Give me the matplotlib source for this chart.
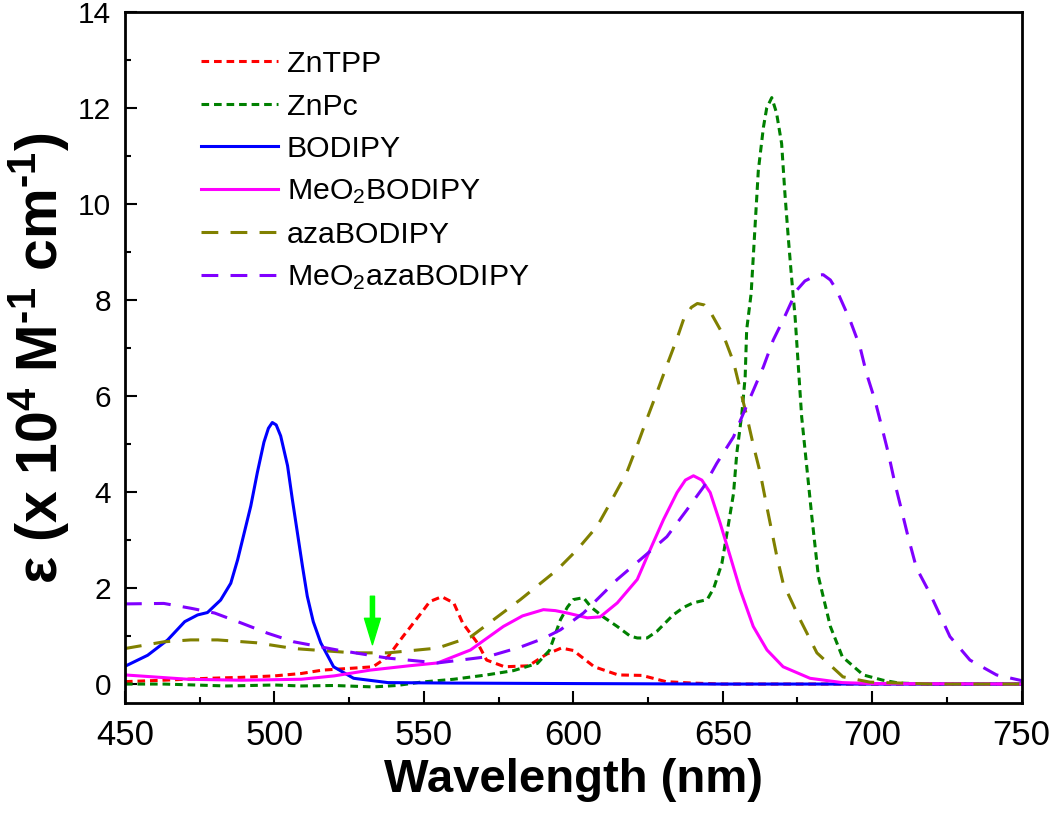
import numpy as np
import matplotlib
matplotlib.use("Agg")
from matplotlib import pyplot as plt

plt.rcParams['font.family'] = ['Liberation Sans', 'DejaVu Sans']
plt.rcParams['mathtext.default'] = 'regular'

# ZnTPP
wl_tpp = [450, 463, 478, 489, 500, 509, 516, 526, 533, 538, 543, 549, 552, 556, 560,
          563, 568, 571, 577, 585, 591, 596, 600, 607, 615, 623, 631, 640, 650, 700, 750]
eps_tpp = [0.05, 0.08, 0.12, 0.14, 0.17, 0.22, 0.29, 0.33, 0.36, 0.57, 0.99, 1.47, 1.72, 1.82, 1.69,
           1.27, 0.85, 0.5, 0.36, 0.38, 0.62, 0.75, 0.7, 0.36, 0.19, 0.18, 0.05, 0.02, 0.0, 0.0, 0.0]

# ZnPc
wl_pc = [450, 463, 484, 500, 509, 520, 533, 541, 549, 560, 571, 580, 588, 592, 595.7, 598, 600,
         603.4, 606, 610, 614.7, 619, 621.4, 624.7, 628, 633.4, 637, 640, 644.8, 647, 649.7,
         651.4, 653.6, 654.7, 656.4, 657.5, 658, 659.5, 660.8, 661.9, 663.6, 664.7, 666.4, 668,
         669.7, 670.8, 671.9, 673, 674.2, 675.3, 676.4, 678.1, 679.8, 682, 686, 690, 697, 703.6,
         709, 720, 750]
eps_pc = [0.0, 0.0, -0.04, -0.02, -0.04, -0.03, -0.06, -0.03, 0.04, 0.1, 0.19, 0.28, 0.43, 0.7,
          1.34, 1.6, 1.76, 1.8, 1.6, 1.4, 1.2, 1.0, 0.96, 0.96, 1.1, 1.44, 1.6, 1.69, 1.76, 2.0,
          2.51, 3.14, 3.97, 4.81, 5.64, 6.4, 7.38, 8.14, 9.53, 10.7, 11.6, 12.0, 12.22, 11.9,
          11.26, 10.22, 9.32, 8.49, 7.65, 6.61, 5.57, 4.53, 3.49, 2.24, 1.2, 0.57, 0.19, 0.08,
          0.02, 0.0, 0.0]

# BODIPY
wl_bod = [450, 451, 457.6, 464.3, 470, 474.3, 477.6, 482, 485.4, 487.7, 489.9, 492.1, 494.3,
          496.5, 498, 499.3, 500.6, 502.1, 504.4, 506, 507.7, 509.4, 511, 513, 515.5, 519.8,
          526.5, 538, 560, 600, 650, 700, 750]
eps_bod = [0.37, 0.4, 0.6, 0.92, 1.3, 1.44, 1.49, 1.75, 2.1, 2.59, 3.15, 3.71, 4.41, 5.04, 5.33,
           5.45, 5.4, 5.17, 4.55, 3.85, 3.15, 2.45, 1.83, 1.3, 0.86, 0.36, 0.12, 0.03, 0.02,
           0.01, 0.0, 0.0, 0.0]

# MeO2BODIPY
wl_mbod = [450, 471, 489, 509, 520, 532, 545, 554.6, 565.6, 576.6, 583, 590, 594, 598, 604.7,
           609, 614.7, 621.4, 625.7, 630.2, 634.7, 637.5, 640.2, 643, 645.8, 649.1, 652.5,
           655.8, 660.2, 664.8, 670.2, 679.2, 690, 700, 750]
eps_mbod = [0.19, 0.1, 0.08, 0.1, 0.17, 0.29, 0.38, 0.44, 0.71, 1.2, 1.42, 1.55, 1.53, 1.48,
            1.38, 1.4, 1.69, 2.18, 2.8, 3.43, 3.99, 4.25, 4.34, 4.25, 3.99, 3.36, 2.66, 1.97,
            1.2, 0.71, 0.36, 0.12, 0.03, 0.01, 0.0]

# azaBODIPY
wl_aza = [450, 463, 472, 481, 494, 506.5, 526.5, 538, 554.6, 565.6, 582.3, 594.6, 601.3, 608,
          612.4, 617.9, 621.3, 624.6, 628, 631.3, 634.7, 636.9, 639.5, 641.5, 643.8, 645.8,
          650.2, 653.6, 655.8, 658, 660.3, 662.5, 664.7, 668.1, 670.2, 675.9, 681.5, 690.2,
          699.2, 720, 750]
eps_aza = [0.74, 0.88, 0.92, 0.92, 0.86, 0.74, 0.65, 0.65, 0.75, 0.98, 1.76, 2.38, 2.8, 3.29,
           3.78, 4.41, 4.96, 5.52, 6.08, 6.64, 7.2, 7.6, 7.85, 7.93, 7.9, 7.76, 7.27, 6.71,
           6.15, 5.59, 4.96, 4.41, 3.71, 2.66, 2.1, 1.34, 0.65, 0.15, 0.04, 0.0, 0.0]

# MeO2azaBODIPY
wl_maza = [450, 463, 472, 480, 489, 497.7, 506.5, 521, 538, 554.6, 571.3, 582.3, 590, 595.7,
           603.4, 614.7, 623.5, 631.3, 638, 643.6, 648, 653.6, 656.9, 660.3, 663.6, 666.9,
           670.3, 674.8, 677.5, 681.4, 683.6, 686, 688.1, 692.6, 695.9, 698.1, 700.9, 703.2,
           705.4, 707.6, 709.8, 712, 714.8, 719.3, 726, 732.7, 741.6, 749.4, 750]
eps_maza = [1.67, 1.68, 1.58, 1.48, 1.27, 1.06, 0.88, 0.71, 0.54, 0.44, 0.57, 0.77, 0.95, 1.13,
            1.48, 2.18, 2.65, 3.07, 3.63, 4.11, 4.6, 5.15, 5.64, 6.13, 6.61, 7.17, 7.6, 8.21,
            8.4, 8.52, 8.53, 8.42, 8.21, 7.58, 7.03, 6.47, 5.92, 5.36, 4.81, 4.18, 3.63, 3.07,
            2.42, 1.89, 0.99, 0.5, 0.19, 0.08, 0.07]

arrow_x = 532.8
arrow_y = (1.83, 0.82)

fig = plt.figure(figsize=(10.5, 8.13), dpi=100)
ax = fig.add_axes([0.119, 0.135, 0.854, 0.85])

lw = 2.2
ax.plot(wl_tpp, eps_tpp, color='#ff0000', lw=lw, dashes=(2.5, 1.6), label='ZnTPP')
ax.plot(wl_pc, eps_pc, color='#008000', lw=lw, dashes=(2.5, 1.6), label='ZnPc')
ax.plot(wl_bod, eps_bod, color='#0000ff', lw=lw, label='BODIPY')
ax.plot(wl_mbod, eps_mbod, color='#ff00ff', lw=lw, label='MeO$_2$BODIPY')
ax.plot(wl_aza, eps_aza, color='#808000', lw=lw, dashes=(5.5, 4), label='azaBODIPY')
ax.plot(wl_maza, eps_maza, color='#8000ff', lw=lw, dashes=(5.5, 4), label='MeO$_2$azaBODIPY')

# green arrow marking the excitation wavelength
ax.annotate('', xy=(arrow_x, arrow_y[1]), xytext=(arrow_x, arrow_y[0]),
            arrowprops=dict(facecolor='#00ff00', edgecolor='#00ff00', width=3,
                            headwidth=11.5, headlength=19, shrink=0))

ax.set_xlim(450, 750)
ax.set_ylim(-0.4, 14)
ax.set_xticks(np.arange(450, 751, 50))
ax.set_xticks(np.arange(475, 750, 50), minor=True)
ax.set_yticks(np.arange(0, 15, 2))
ax.set_yticks(np.arange(1, 14, 2), minor=True)

for s in ax.spines.values():
    s.set_linewidth(2)
ax.tick_params(which='both', direction='in', width=1.5, top=False, right=False)
ax.tick_params(which='major', length=8.6)
ax.tick_params(which='minor', length=4.3)
ax.tick_params(axis='x', labelsize=25, pad=11)
ax.tick_params(axis='y', labelsize=21.5, pad=10)

ax.set_xlabel('Wavelength (nm)', fontsize=34, fontweight='bold', labelpad=5)
ax.set_ylabel('ε (x 10$^4$ M$^{‐1}$ cm$^{‐1}$)', fontsize=41, fontweight='bold', labelpad=5)

leg = ax.legend(loc='upper left', bbox_to_anchor=(201 / 1050, 1 - 50 / 813),
                bbox_transform=fig.transFigure, frameon=False, fontsize=21.8,
                handlelength=2.54, handletextpad=0.3, labelspacing=0.48,
                borderpad=0, borderaxespad=0)

fig.savefig('out.png', dpi=100)
